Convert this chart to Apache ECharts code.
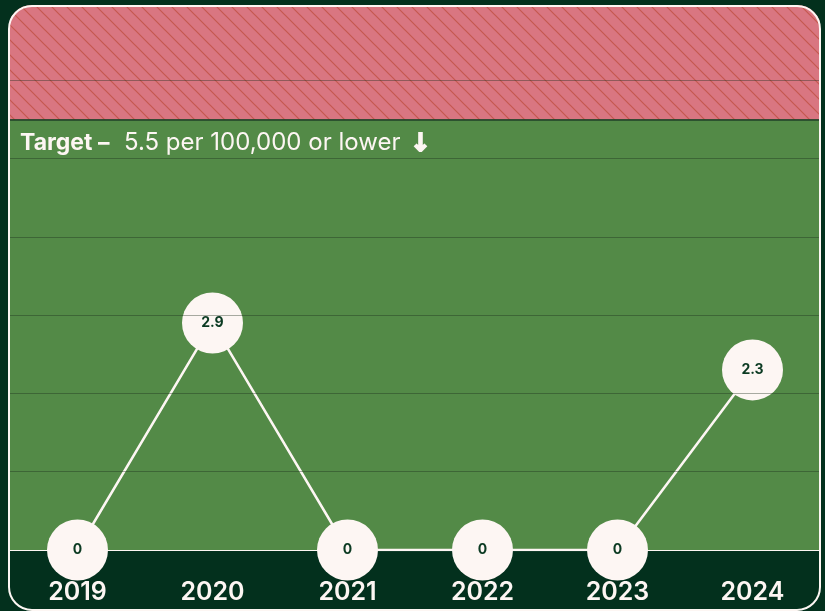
<!DOCTYPE html>
<html>
<head>
<meta charset="utf-8">
<script src="https://cdn.jsdelivr.net/npm/echarts@6/dist/echarts.min.js"></script>
<style>
  html, body { margin:0; padding:0; background:#03301d; }
  #chart { position:absolute; left:0; top:0; width:825px; height:611px; }
  #frame { position:absolute; left:8px; top:5px; width:813px; height:606px; box-sizing:border-box;
           border:2px solid #fdf6f3; border-radius:24px; box-shadow:0 0 0 120px #03301d; pointer-events:none; }
</style>
</head>
<body>
<div id="chart"></div>
<div id="frame"></div>
<script>
const years = ['2019','2020','2021','2022','2023','2024'];
const rates = [0, 2.9, 0, 0, 0, 2.3];
const targetValue = 5.5;
const axisMax = 7;
const gridValues = [1, 2, 3, 4, 5, 6];
const targetLabel = ['Target –', '5.5 per 100,000 or lower', '↓'];

// hatch pattern
const pc = document.createElement('canvas');
pc.width = 15; pc.height = 15;
const px = pc.getContext('2d');
px.fillStyle = '#d97681';
px.fillRect(0,0,15,15);
px.strokeStyle = '#c5584f';
px.lineWidth = 1.2;
px.beginPath();
px.moveTo(0,0); px.lineTo(15,15);
px.moveTo(-2,13); px.lineTo(2,17);
px.moveTo(13,-2); px.lineTo(17,2);
px.stroke();

const chart = echarts.init(document.getElementById('chart'), null, {renderer:'canvas'});
const font = 'Inter, "Open Sans", sans-serif';
const txt = '#fdf6f3';
chart.setOption({
  animation:false,
  backgroundColor:'#03301d',
  grid:{left:10, right:5, top:2, bottom:61},
  xAxis:{
    type:'category', data:years, boundaryGap:true,
    axisLine:{show:true, lineStyle:{color:txt, width:2}},
    axisTick:{show:false},
    axisLabel:{color:txt, fontSize:25, fontWeight:600, fontFamily:font, margin:30}
  },
  yAxis:{
    type:'value', min:0, max:axisMax, interval:1,
    axisLabel:{show:false}, axisLine:{show:false}, axisTick:{show:false},
    splitLine:{show:false}
  },
  graphic:[
    {type:'text', x:20, y:143, z:10, style:{text:targetLabel[0], fontFamily:font, fontSize:23, fontWeight:'bold', fill:txt, verticalAlign:'middle'}},
    {type:'text', x:124, y:143, z:10, style:{text:targetLabel[1], fontFamily:font, fontSize:24, fontWeight:'normal', fill:txt, verticalAlign:'middle'}},
    {type:'text', x:410, y:144, z:10, style:{text:targetLabel[2], fontFamily:'DejaVu Sans', fontSize:25, fontWeight:'bold', fill:txt, stroke:txt, lineWidth:1.6, verticalAlign:'middle'}}
  ],
  series:[
    {
      type:'line', data:[], z:-1, silent:true,
      markArea:{
        silent:true,
        data:[
          [{yAxis:0, itemStyle:{color:'#538a47'}}, {yAxis:targetValue}],
          [{yAxis:targetValue, itemStyle:{color:{image:pc, repeat:'repeat'}}}, {yAxis:axisMax}]
        ]
      },
      markLine:{
        silent:true, symbol:'none', label:{show:false},
        data:gridValues.map(v => ({yAxis:v, lineStyle:{color:'rgba(25,45,25,0.38)', width:1, type:'solid'}}))
          .concat([{yAxis:targetValue, lineStyle:{color:'#1f3f27', width:1.5, type:'solid'}}])
      }
    },
    {
      type:'line', data:rates, z:3,
      symbol:'circle', symbolSize:61,
      lineStyle:{color:txt, width:2.5},
      itemStyle:{color:txt, borderWidth:0},
      label:{show:true, position:'inside', color:'#0b3a22', fontSize:14, fontWeight:'bold', fontFamily:font}
    }
  ]
});
</script>
</body>
</html>
